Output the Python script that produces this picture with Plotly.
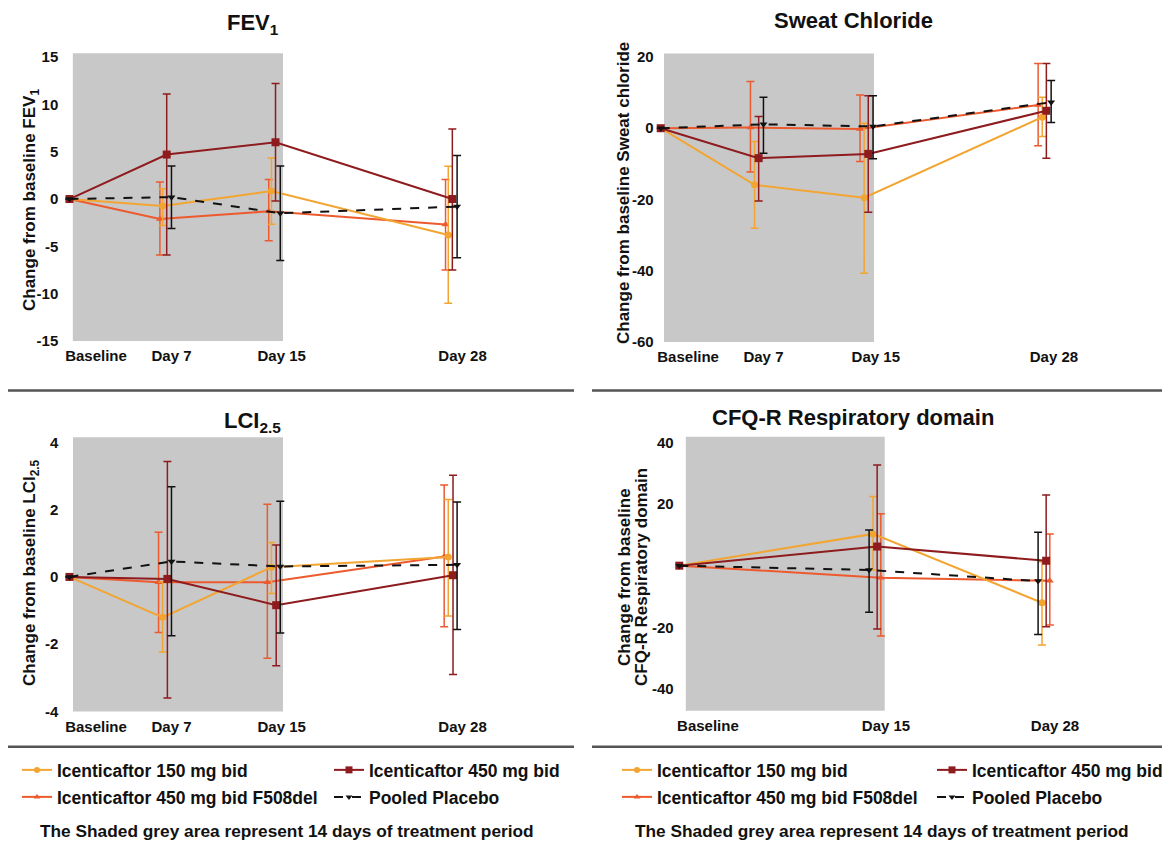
import plotly.graph_objects as go

W, H = 1170, 846
# the page draws the figure 8 px in from the top-left corner
OX, OY = 8, 8

# ---------------- data ----------------
DAYS = [0, 7, 15, 28]
DAYS_CFQ = [0, 15, 28]
TICKS = ["Baseline", "Day 7", "Day 15", "Day 28"]
TICKS_CFQ = ["Baseline", "Day 15", "Day 28"]

S150 = "Icenticaftor 150 mg bid"
S450 = "Icenticaftor 450 mg bid"
SF508 = "Icenticaftor 450 mg bid F508del"
SPBO = "Pooled Placebo"
SERIES = [S150, S450, SF508, SPBO]

# FEV1: mean, upper and lower bar ends
fev_150 = [0, -0.74, 0.84, -3.8]
fev_150_hi = [None, 1.1, 4.35, 3.47]
fev_150_lo = [None, -2.8, -2.67, -11.0]
fev_450 = [0, 4.7, 6.0, 0.0]
fev_450_hi = [None, 11.1, 12.2, 7.4]
fev_450_lo = [None, -5.9, -0.2, -7.5]
fev_f508 = [0, -2.1, -1.3, -2.7]
fev_f508_hi = [None, 1.8, 2.07, 2.07]
fev_f508_lo = [None, -5.9, -4.4, -7.5]
fev_pbo = [0, 0.2, -1.5, -0.8]
fev_pbo_hi = [None, 3.5, 3.5, 4.6]
fev_pbo_lo = [None, -3.1, -6.5, -6.2]

# Sweat chloride
sc_150 = [0, -15.9, -19.5, 3.1]
sc_150_hi = [None, -3.7, 1.4, 8.7]
sc_150_lo = [None, -28.1, -40.7, -2.3]
sc_450 = [0, -8.4, -7.2, 4.9]
sc_450_hi = [None, 3.3, 9.1, 18.2]
sc_450_lo = [None, -20.4, -23.6, -8.4]
sc_f508 = [0, 0.2, -0.2, 6.5]
sc_f508_hi = [None, 13.1, 9.35, 18.2]
sc_f508_lo = [None, -12.3, -9.35, -4.9]
sc_pbo = [0, 1.1, 0.5, 7.3]
sc_pbo_hi = [None, 8.7, 9.1, 13.4]
sc_pbo_lo = [None, -7.0, -8.6, 1.6]

# LCI 2.5
lci_150 = [0, -1.2, 0.29, 0.59]
lci_150_hi = [None, -0.15, 1.02, 2.3]
lci_150_lo = [None, -2.23, -0.49, -1.16]
lci_450 = [0, -0.06, -0.84, 0.05]
lci_450_hi = [None, 3.43, 0.95, 3.02]
lci_450_lo = [None, -3.6, -2.64, -2.9]
lci_f508 = [0, -0.16, -0.16, 0.61]
lci_f508_hi = [None, 1.33, 2.16, 2.73]
lci_f508_lo = [None, -1.65, -2.42, -1.48]
lci_pbo = [0, 0.46, 0.31, 0.36]
lci_pbo_hi = [None, 2.68, 2.25, 2.23]
lci_pbo_lo = [None, -1.75, -1.67, -1.56]

# CFQ-R respiratory domain
cfq_150 = [0, 10.3, -12.0]
cfq_150_hi = [None, 22.4, 1.3]
cfq_150_lo = [None, -1.4, -25.7]
cfq_450 = [0, 6.2, 1.6]
cfq_450_hi = [None, 32.6, 22.9]
cfq_450_lo = [None, -20.5, -19.8]
cfq_f508 = [0, -3.9, -4.9]
cfq_f508_hi = [None, 16.8, 10.3]
cfq_f508_lo = [None, -22.8, -19.2]
cfq_pbo = [0, -1.4, -5.0]
cfq_pbo_hi = [None, 11.6, 10.8]
cfq_pbo_lo = [None, -15.1, -22.3]

# ---------------- styles ----------------
FONT = "Liberation Sans, Arial, sans-serif"
COLORS = {S150: "#F2A531", S450: "#8E1B1E", SF508: "#EC5A2E", SPBO: "#111111"}
SYMBOLS = {S150: "circle", S450: "square", SF508: "triangle-up", SPBO: "triangle-down"}
SIZES = {S150: 7, S450: 8, SF508: 7, SPBO: 7}
DASH = {S150: "solid", S450: "solid", SF508: "solid", SPBO: "dash"}
SHADE = "#C8C8C8"


def fx(px):
    return (px - OX) / W


def fy(py):
    return 1 - (py - OY) / H


panels = [
    dict(ax="", days=DAYS, ticks=TICKS,
         data={S150: (fev_150, fev_150_hi, fev_150_lo), S450: (fev_450, fev_450_hi, fev_450_lo),
               SF508: (fev_f508, fev_f508_hi, fev_f508_lo), SPBO: (fev_pbo, fev_pbo_hi, fev_pbo_lo)},
         offs={S150: -0.15, S450: 0.15, SF508: -0.35, SPBO: 0.5},
         xpx=(61.3, 477.5), xr=[-0.6, 30], ypx=(53.3, 341), yr=[-15, 15.4],
         yt=[15, 10, 5, 0, -5, -10, -15], tickpos=[1.95, 7.5, 15.6, 28.9], shade=(0.25, 15.7)),
    dict(ax="2", days=DAYS, ticks=TICKS,
         data={S150: (sc_150, sc_150_hi, sc_150_lo), S450: (sc_450, sc_450_hi, sc_450_lo),
               SF508: (sc_f508, sc_f508_hi, sc_f508_lo), SPBO: (sc_pbo, sc_pbo_hi, sc_pbo_lo)},
         offs={S150: -0.15, S450: 0.15, SF508: -0.45, SPBO: 0.5},
         xpx=(656.6, 1071.7), xr=[-0.3, 30], ypx=(53.4, 342), yr=[-60, 21],
         yt=[20, 0, -20, -40, -60], tickpos=[2.0, 7.5, 15.7, 28.7], shade=(0.24, 15.57)),
    dict(ax="3", days=DAYS, ticks=TICKS,
         data={S150: (lci_150, lci_150_hi, lci_150_lo), S450: (lci_450, lci_450_hi, lci_450_lo),
               SF508: (lci_f508, lci_f508_hi, lci_f508_lo), SPBO: (lci_pbo, lci_pbo_hi, lci_pbo_lo)},
         offs={S150: -0.15, S450: 0.2, SF508: -0.45, SPBO: 0.5},
         xpx=(61.3, 477.5), xr=[-0.6, 30], ypx=(437.3, 711.5), yr=[-4.0, 4.15],
         yt=[4, 2, 0, -2, -4], tickpos=[1.95, 7.5, 15.6, 28.9], shade=(0.26, 15.7)),
    dict(ax="4", days=DAYS_CFQ, ticks=TICKS_CFQ,
         data={S150: (cfq_150, cfq_150_hi, cfq_150_lo), S450: (cfq_450, cfq_450_hi, cfq_450_lo),
               SF508: (cfq_f508, cfq_f508_hi, cfq_f508_lo), SPBO: (cfq_pbo, cfq_pbo_hi, cfq_pbo_lo)},
         offs={S150: -0.1, S450: 0.22, SF508: 0.5, SPBO: -0.4},
         xpx=(676.7, 1069.3), xr=[-0.2, 30], ypx=(436.7, 710.7), yr=[-47, 41.8],
         yt=[40, 20, -20, -40], tickpos=[2.2, 15.9, 28.9], shade=(0.5, 15.8)),
]

fig = go.Figure()
layout = dict(template="none", width=W, height=H,
              margin=dict(l=0, r=0, t=0, b=0, pad=0, autoexpand=False),
              paper_bgcolor="white", plot_bgcolor="white", showlegend=True,
              font=dict(family=FONT, color="#111111"))
shapes = []
annotations = []

DRAW_ORDER = [SF508, S150, S450, SPBO]

for p in panels:
    a = p["ax"]
    xname, yname = "x" + a, "y" + a
    for s in DRAW_ORDER:
        mean, hi, lo = p["data"][s]
        xs = [d + (p["offs"][s] if d > 0 else 0) for d in p["days"]]
        up = [None if h is None else h - m for h, m in zip(hi, mean)]
        dn = [None if l is None else m - l for l, m in zip(lo, mean)]
        fig.add_trace(go.Scatter(
            x=xs, y=mean, xaxis=xname, yaxis=yname, mode="lines+markers", name=s,
            showlegend=False, cliponaxis=False,
            line=dict(color=COLORS[s], width=2, dash=DASH[s]),
            marker=dict(color=COLORS[s], symbol=SYMBOLS[s], size=SIZES[s], line=dict(width=0)),
            error_y=dict(type="data", symmetric=False, array=up, arrayminus=dn,
                         color=COLORS[s], thickness=1.5, width=4)))
    x0, x1 = p["xpx"]
    yt0, yb0 = p["ypx"]
    layout["xaxis" + a] = dict(domain=[fx(x0), fx(x1)], range=p["xr"], anchor=yname,
                               automargin=False,
                               showgrid=False, zeroline=False, showline=False, ticks="",
                               tickvals=p["tickpos"], ticktext=p["ticks"],
                               tickfont=dict(size=15, family=FONT, weight="bold", color="#111"),
                               ticklabelstandoff=4)
    layout["yaxis" + a] = dict(domain=[fy(yb0), fy(yt0)], range=p["yr"], anchor=xname,
                               automargin=False,
                               showgrid=False, zeroline=False, showline=False, ticks="",
                               tickvals=p["yt"], ticktext=[str(v) for v in p["yt"]],
                               tickfont=dict(size=15, family=FONT, weight="bold", color="#111"),
                               ticklabelstandoff=2)
    shapes.append(dict(type="rect", xref=xname, yref=yname + " domain",
                       x0=p["shade"][0], x1=p["shade"][1], y0=0, y1=1,
                       fillcolor=SHADE, line=dict(width=0), layer="below"))

# legend entries: one small legend per entry, two copies of the key
LEG_POS = {
    S150: [(60, 770), (660, 770)],
    S450: [(372, 770), (975, 770)],
    SF508: [(60, 797), (660, 797)],
    SPBO: [(372, 797), (975, 797)],
}
legfont = dict(size=17.5, family=FONT, weight="bold", color="#111")
k = 0
for copy in range(2):
    for s in SERIES:
        k += 1
        lname = "legend" if k == 1 else "legend%d" % k
        fig.add_trace(go.Scatter(
            x=[None], y=[None], mode="lines+markers", name=s, legend=lname, showlegend=True,
            line=dict(color=COLORS[s], width=2, dash=DASH[s]),
            marker=dict(color=COLORS[s], symbol=SYMBOLS[s], size=SIZES[s] - 1)))
        tx, ty = LEG_POS[s][copy]
        layout[lname] = dict(x=fx(tx - 43), y=fy(ty), xanchor="left", yanchor="middle",
                             itemwidth=30, font=legfont, bgcolor="rgba(0,0,0,0)",
                             borderwidth=0)

# separators
for yy in [390.5, 746.7]:
    for xa, xb in [(8, 574), (592, 1163)]:
        shapes.append(dict(type="line", xref="paper", yref="paper",
                           x0=fx(xa), x1=fx(xb), y0=fy(yy), y1=fy(yy),
                           line=dict(color="#555555", width=2.5)))


def ann(text, x, y, size, angle=0, xanchor="center"):
    annotations.append(dict(text=text, x=fx(x), y=fy(y), xref="paper", yref="paper",
                            showarrow=False, xanchor=xanchor, yanchor="middle", textangle=angle,
                            font=dict(size=size, family=FONT, weight="bold", color="#111")))


ann("FEV<sub>1</sub>", 253, 24, 22)
ann("Sweat Chloride", 853, 21, 22)
ann("LCI<sub>2.5</sub>", 252, 422, 22)
ann("CFQ-R Respiratory domain", 853, 418, 22)

ann("Change from baseline FEV<sub>1</sub>", 31, 200, 17, -90)
ann("Change from baseline Sweat chloride", 623, 193, 17, -90)
ann("Change from baseline LCI<sub>2.5</sub>", 31, 573, 17, -90)
ann("Change from baseline", 624, 577, 17, -90)
ann("CFQ-R Respiratory domain", 641, 577, 17, -90)

NOTE = "The Shaded grey area represent 14 days of treatment period"
ann(NOTE, 38, 831, 17.3, 0, "left")
ann(NOTE, 633, 831, 17.3, 0, "left")

layout["shapes"] = shapes
layout["annotations"] = annotations
fig.update_layout(**layout)
fig.write_html("out.html")
